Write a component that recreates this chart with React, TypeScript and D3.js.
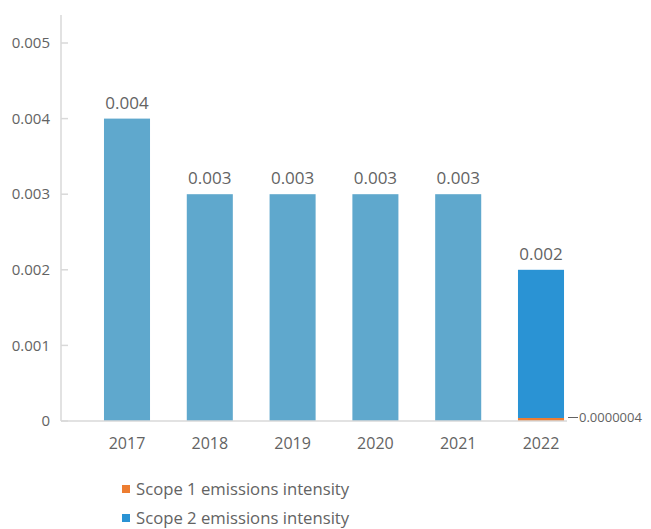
import React from "react";
import * as d3 from "d3";

const years = ["2017", "2018", "2019", "2020", "2021", "2022"];
const totalIntensity = [0.004, 0.003, 0.003, 0.003, 0.003, null];
const scope1 = [null, null, null, null, null, 0.0000004];
const scope2 = [null, null, null, null, null, 0.002];
const yTicks = [0, 0.001, 0.002, 0.003, 0.004, 0.005];
const legendItems = ["Scope 1 emissions intensity", "Scope 2 emissions intensity"];

const W = 651;
const H = 529;
const FONT = "'Open Sans', 'Liberation Sans', sans-serif";
const TEXT = "#636363";
const GRID = "#d9d9d9";
const C_TOTAL = "#5fa8cd";
const C_S1 = "#ed7d31";
const C_S2 = "#2a93d4";

export default function App() {
  const x = d3.scaleBand<string>().domain(years).range([85.6, 582.4]).paddingInner(0.444).paddingOuter(0.222);
  const y = d3.scaleLinear().domain([0, 0.005]).range([421, 43]);
  const bw = x.bandwidth();
  const fmt = (v: number) => (v === 0 ? "0" : d3.format(".3f")(v));

  return (
    <svg width={W} height={H} style={{ position: "absolute", left: 0, top: 0, background: "#fff" }} fontFamily={FONT}>
      <line x1={61} x2={61} y1={15} y2={y(0)} stroke={GRID} strokeWidth={1.5} />
      {yTicks.map((t) => (
        <g key={t}>
          <line x1={61} x2={68} y1={y(t)} y2={y(t)} stroke={GRID} strokeWidth={1.5} />
          <text x={50} y={y(t)} dy="0.35em" textAnchor="end" fontSize={15} fill={TEXT}>
            {fmt(t)}
          </text>
        </g>
      ))}
      {years.map((yr, i) => {
        const x0 = x(yr)!;
        const els: React.ReactNode[] = [];
        const tv = totalIntensity[i];
        if (tv != null) {
          els.push(<rect key="t" x={x0} y={y(tv)} width={bw} height={y(0) - y(tv)} fill={C_TOTAL} />);
          els.push(
            <text key="tl" x={x0 + bw / 2} y={y(tv) - 10} textAnchor="middle" fontSize={17} fill={TEXT}>
              {d3.format(".3f")(tv)}
            </text>
          );
        }
        const s1 = scope1[i];
        const s2 = scope2[i];
        if (s1 != null && s2 != null) {
          const h1 = Math.max(y(0) - y(s1), 3);
          const top = y(s2);
          els.push(<rect key="s2" x={x0} y={top} width={bw} height={y(0) - top} fill={C_S2} />);
          els.push(<rect key="s1" x={x0} y={y(0) - h1} width={bw} height={h1} fill={C_S1} />);
          els.push(
            <text key="s2l" x={x0 + bw / 2} y={top - 10} textAnchor="middle" fontSize={17} fill={TEXT}>
              {d3.format(".3f")(s2)}
            </text>
          );
          els.push(<line key="s1ln" x1={x0 + bw + 4} x2={x0 + bw + 14} y1={y(0) - 3.5} y2={y(0) - 3.5} stroke={TEXT} strokeWidth={1} />);
          els.push(
            <text key="s1l" x={x0 + bw + 15} y={y(0) - 3.5} dy="0.35em" fontSize={13} fill={TEXT}>
              {s1.toFixed(7)}
            </text>
          );
        }
        return <g key={yr}>{els}</g>;
      })}
      <line x1={61} x2={567} y1={y(0)} y2={y(0)} stroke={GRID} strokeWidth={1.5} />
      {years.map((yr) => (
        <text key={yr} x={x(yr)! + bw / 2} y={443} dy="0.35em" textAnchor="middle" fontSize={16} fill={TEXT}>
          {yr}
        </text>
      ))}
      {legendItems.map((l, i) => (
        <g key={l} transform={`translate(122, ${489 + i * 29})`}>
          <rect x={0} y={-4} width={8} height={8} fill={i === 0 ? C_S1 : C_S2} />
          <text x={14} y={0} dy="0.35em" fontSize={16.7} fill={TEXT}>
            {l}
          </text>
        </g>
      ))}
    </svg>
  );
}
